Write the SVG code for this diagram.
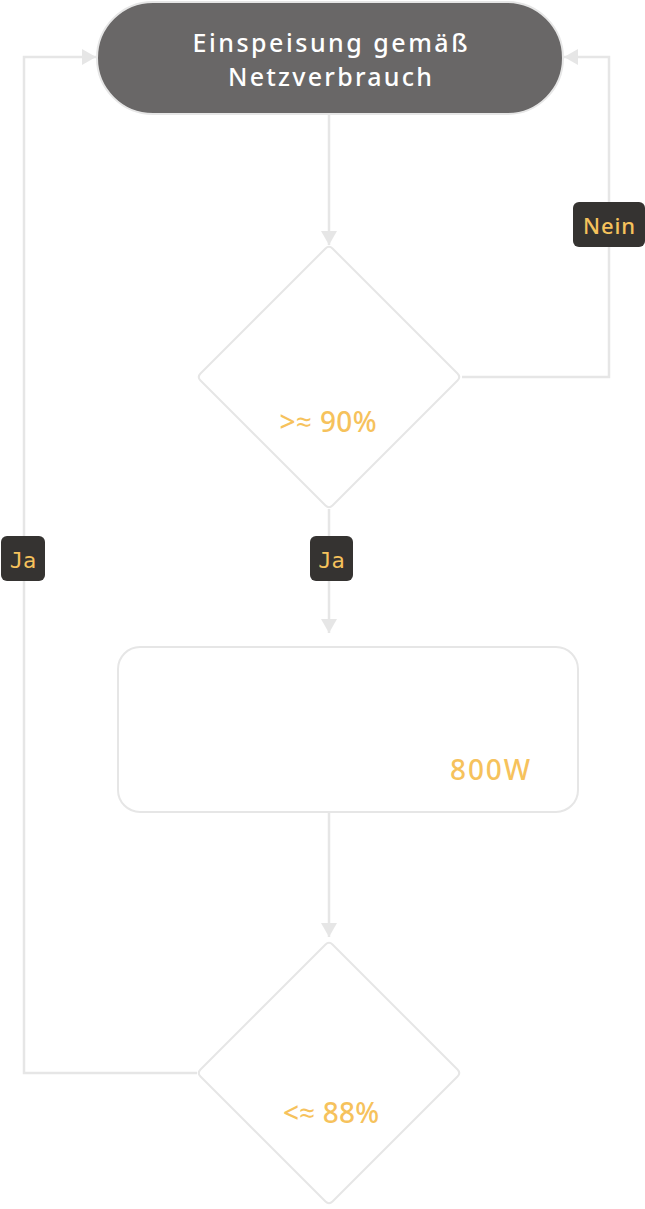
<svg xmlns="http://www.w3.org/2000/svg" width="645" height="1209" viewBox="0 0 645 1209">
  <style>
    .conn { fill: none; stroke: #e6e6e6; stroke-width: 2.5; }
    .shape { fill: #ffffff; stroke: #e6e6e6; stroke-width: 2; }
    .title { font-family: "Noto Sans", "Open Sans", sans-serif; font-size: 25px; font-weight: 500; fill: #ffffff; text-anchor: middle; }
    .val { font-family: "Noto Sans", "Open Sans", sans-serif; font-size: 28px; font-weight: 500; fill: #f6c25c; text-anchor: middle; }
    .lblbox { fill: #353331; }
    .lbl { font-family: "Noto Sans", "Open Sans", sans-serif; font-size: 22px; font-weight: 500; fill: #f6c25c; text-anchor: middle; }
    .lblmono { font-family: "DejaVu Sans Mono", "Liberation Mono", monospace; font-size: 22px; fill: #f6c25c; text-anchor: middle; }
  </style>
  <defs>
    <marker id="arrow" viewBox="0 0 14 16" refX="14" refY="8" markerWidth="14" markerHeight="16" markerUnits="userSpaceOnUse" orient="auto">
      <path d="M0,0 L14,8 L0,16 Z" fill="#e6e6e6"/>
    </marker>
  </defs>
  <rect x="0" y="0" width="645" height="1209" fill="#ffffff"/>

  <g id="connectors">
    <path class="conn" d="M329,114 V245" marker-end="url(#arrow)"/>
    <path class="conn" d="M462,377 H609 V57 H564" marker-end="url(#arrow)"/>
    <path class="conn" d="M329,509 V633" marker-end="url(#arrow)"/>
    <path class="conn" d="M329,812 V937" marker-end="url(#arrow)"/>
    <path class="conn" d="M197,1073 H24 V57 H96" marker-end="url(#arrow)"/>
  </g>

  <g id="node-start">
    <rect x="97" y="2" width="466" height="112" rx="56" ry="56" fill="#696767" stroke="#e6e6e6" stroke-width="2"/>
    <text class="title" x="330" y="51.5" textLength="275" lengthAdjust="spacing">Einspeisung gemäß</text>
    <text class="title" x="330" y="86" textLength="204" lengthAdjust="spacing">Netzverbrauch</text>
  </g>

  <g id="decision-90">
    <path class="shape" d="M325.5,248.5 Q329,245 332.5,248.5 L457.5,373.5 Q461,377 457.5,380.5 L332.5,505.5 Q329,509 325.5,505.5 L200.5,380.5 Q197,377 200.5,373.5 Z"/>
    <text class="val" x="328" y="432" textLength="97" lengthAdjust="spacing">&gt;≈ 90%</text>
  </g>

  <g id="process-800w">
    <rect class="shape" x="118" y="647" width="460" height="165" rx="22" ry="22"/>
    <text class="val" x="490" y="780" textLength="80" lengthAdjust="spacing">800W</text>
  </g>

  <g id="decision-88">
    <path class="shape" d="M325.5,944.5 Q329,941 332.5,944.5 L457.5,1069.5 Q461,1073 457.5,1076.5 L332.5,1201.5 Q329,1205 325.5,1201.5 L200.5,1076.5 Q197,1073 200.5,1069.5 Z"/>
    <text class="val" x="331" y="1123" textLength="96" lengthAdjust="spacing">&lt;≈ 88%</text>
  </g>

  <g id="label-nein">
    <rect class="lblbox" x="573" y="202" width="72" height="45" rx="6" ry="6"/>
    <text class="lbl" x="609" y="234" textLength="52" lengthAdjust="spacing">Nein</text>
  </g>
  <g id="label-ja-mid">
    <rect class="lblbox" x="310" y="536" width="43" height="45" rx="6" ry="6"/>
    <text class="lblmono" x="331.5" y="568">Ja</text>
  </g>
  <g id="label-ja-left">
    <rect class="lblbox" x="1" y="536" width="44" height="45" rx="6" ry="6"/>
    <text class="lblmono" x="23" y="568">Ja</text>
  </g>
</svg>
